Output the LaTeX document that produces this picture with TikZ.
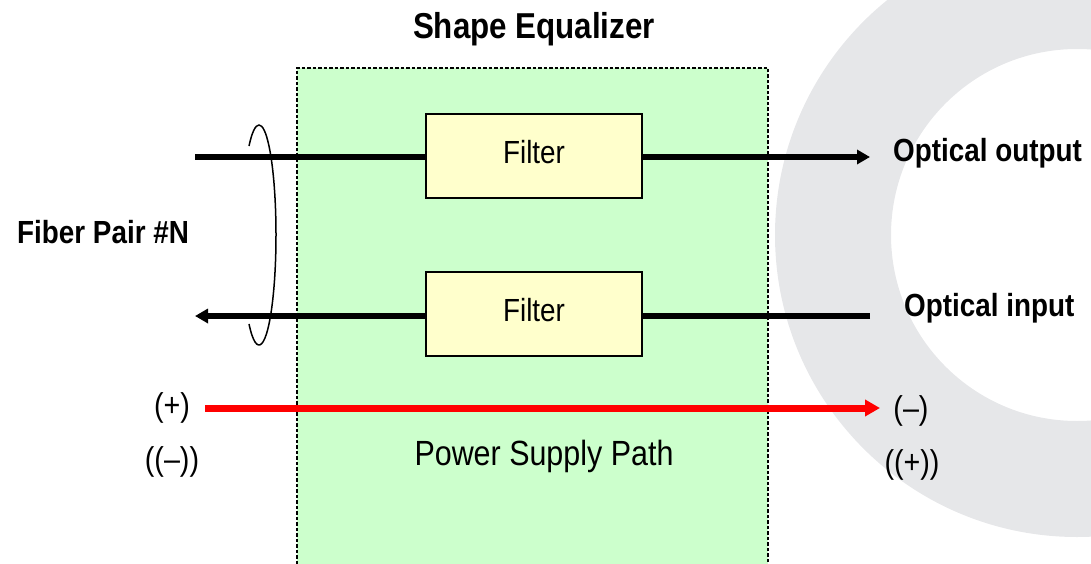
\documentclass[tikz,border=0pt]{standalone}
\usepackage{fontspec}
\setmainfont{Liberation Sans}[FakeStretch=0.87]
\usetikzlibrary{arrows.meta}
\definecolor{ringgray}{RGB}{230,231,233}
\definecolor{boxgreen}{RGB}{204,255,204}
\definecolor{filteryellow}{RGB}{255,255,204}
\definecolor{powerred}{RGB}{255,0,0}
\tikzset{
  filterbox/.style={draw=black, line width=2pt, fill=filteryellow, minimum width=216pt, minimum height=84pt, inner sep=0pt, text depth=8pt, font=\fontsize{32}{38}\selectfont},
  fiberline/.style={line width=6pt, draw=black},
  fiberarrow/.style={fiberline, -{Triangle[length=13pt,width=14pt]}},
  powerarrow/.style={line width=7pt, draw=powerred, -{Triangle[length=15pt,width=16pt]}},
  boldlabel/.style={inner sep=0pt, font=\fontsize{32}{38}\selectfont\bfseries},
  plainlabel/.style={inner sep=0pt, font=\fontsize{33}{38}\selectfont},
  wrapring/.style={draw=black, line width=1.5pt},
}
\begin{document}
\begin{tikzpicture}[x=1pt,y=-1pt]
\useasboundingbox (0,0) rectangle (1091,564);
% background ring
\begin{scope}
\clip (0,0) rectangle (1091,564);
\fill[ringgray, even odd rule] (1077,235) circle[radius=302] (1077,235) circle[radius=186];
\end{scope}
% shape equalizer box (open at the bottom)
\fill[boxgreen] (297,68) rectangle (768,564);
\draw[line width=1.3pt, dash pattern=on 3.5pt off 2pt] (297,564) -- (297,68) -- (768,68) -- (768,564);
% title
\node[inner sep=0pt, anchor=base, font=\fontsize{36}{42}\selectfont\bfseries] (title) at (534,39) {Shape Equalizer};
% filters
\node[filterbox] (f1) at (534,156) {Filter};
\node[filterbox] (f2) at (534,314) {Filter};
% fiber coordinates
\coordinate (in1) at (195,157);
\coordinate (out1) at (870,157);
\coordinate (in2) at (870,316);
\coordinate (out2) at (195,316);
\draw[fiberline] (in1) -- (in1 -| f1.west);
\draw[fiberarrow] (out1 -| f1.east) -- (out1);
\draw[fiberline] (in2) -- (in2 -| f2.east);
\draw[fiberarrow] (out2 -| f2.west) -- (out2);
% fiber pair wrap
\draw[wrapring] (259,235) ++(126:17 and 110) arc[start angle=126, end angle=-126, x radius=17, y radius=110];
% power supply path
\coordinate (pstart) at (205,408);
\coordinate (pend) at (880,408);
\draw[powerarrow] (pstart) -- (pend);
% labels
\node[boldlabel, anchor=base west] (fp) at (17,243) {Fiber Pair \#N};
\node[boldlabel, anchor=base west] (oo) at (893,161) {Optical output};
\node[boldlabel, anchor=base west] (oi) at (904,316) {Optical input};
\node[plainlabel, anchor=base] (lp) at (172,416) {(+)};
\node[plainlabel, anchor=base] (lm) at (172,470) {((–))};
\node[plainlabel, anchor=base] (rm) at (911,419) {(–)};
\node[plainlabel, anchor=base] (rp) at (912,473) {((+))};
\node[inner sep=0pt, anchor=base, font=\fontsize{35}{42}\selectfont] (psp) at (544,465) {Power Supply Path};
\end{tikzpicture}
\end{document}
